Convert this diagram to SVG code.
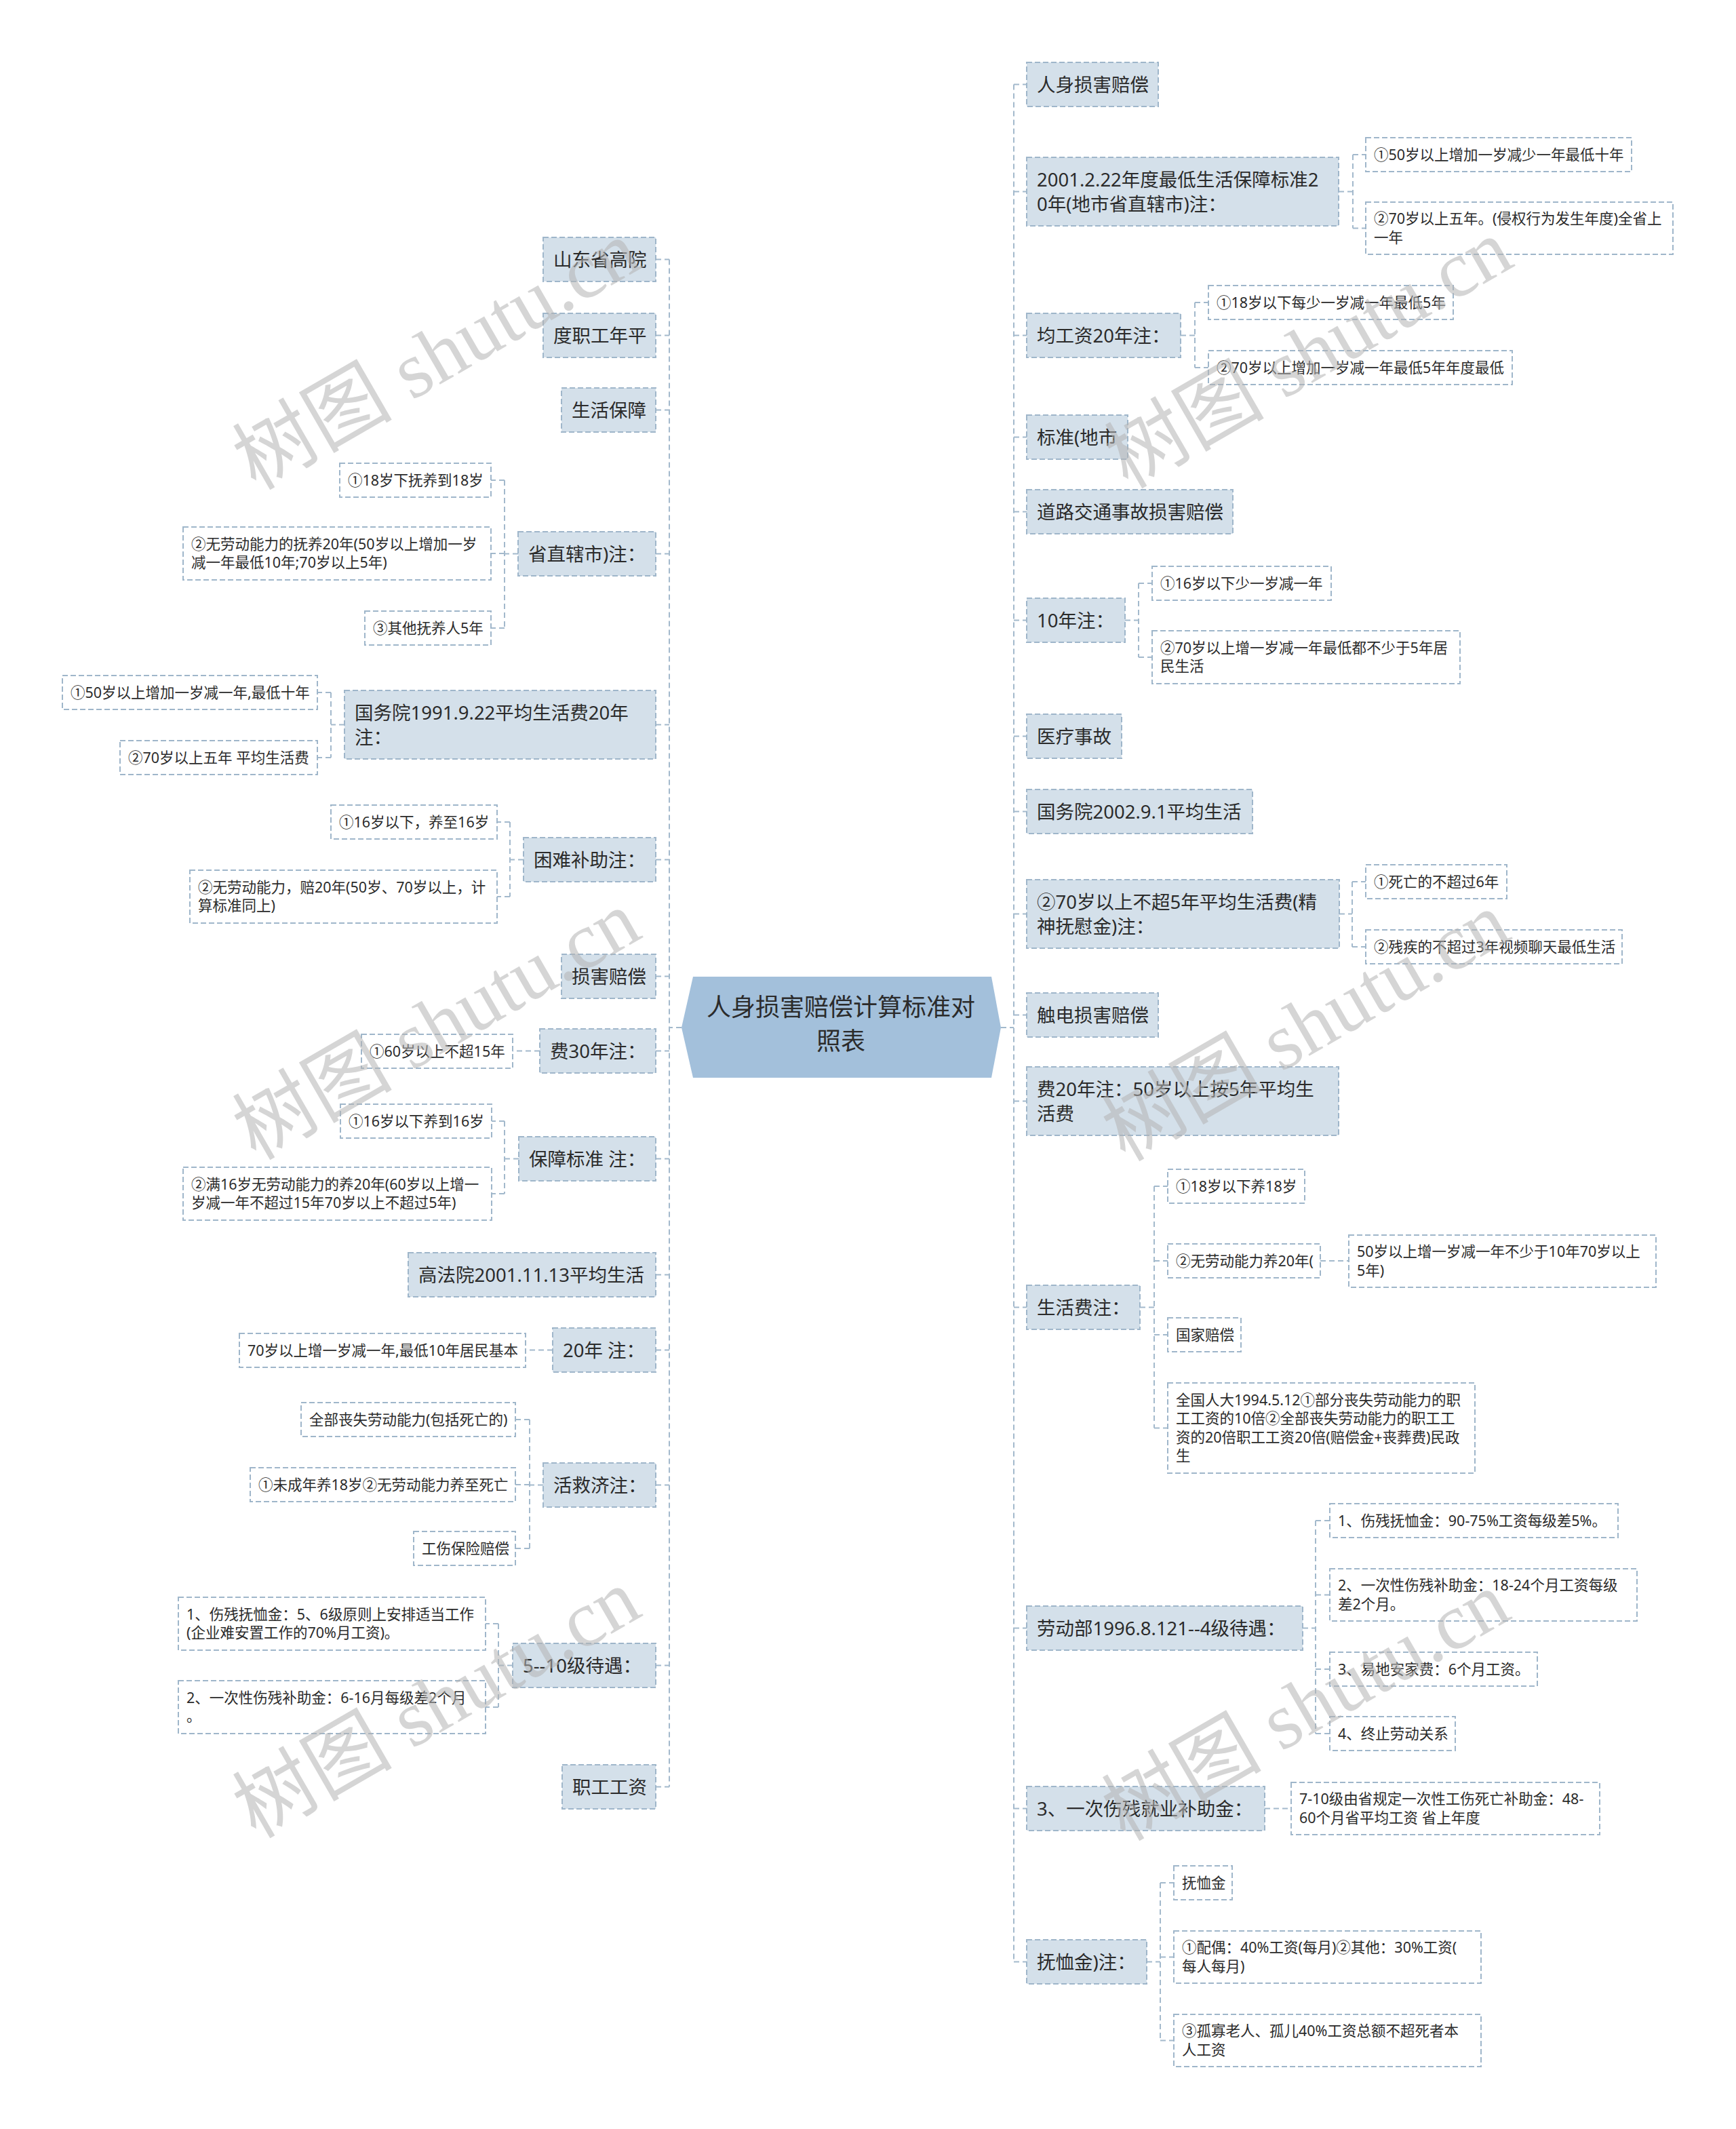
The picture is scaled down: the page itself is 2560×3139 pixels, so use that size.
<svg xmlns="http://www.w3.org/2000/svg" width="2560" height="3139" viewBox="0 0 2560 3139">
<style>
.n1{fill:#d4e0ea;stroke:#9fb6ca;stroke-width:2;stroke-dasharray:8 4}
.n2{fill:#ffffff;stroke:#9fb6ca;stroke-width:2;stroke-dasharray:8 4}
.t1{font-family:"Noto Sans","Noto Sans CJK SC",sans-serif;font-size:27.5px;fill:#2b2b2b}
.t2{font-family:"Noto Sans","Noto Sans CJK SC",sans-serif;font-size:21.5px;fill:#2b2b2b}
.t0{font-family:"Noto Sans","Noto Sans CJK SC",sans-serif;font-size:36px;fill:#2b2b2b}
.c{fill:none;stroke:#a3b9cc;stroke-width:2;stroke-dasharray:8 5}
.wm{font-family:"Liberation Serif","Noto Sans CJK SC",serif;font-size:118px;fill:#b4b4b4;opacity:0.55}
</style>
<rect width="2560" height="3139" fill="#ffffff"/>
<g id="connectors">
<path class="c" d="M1005,1515 H987 M1476,1515 H1495"/>
<path class="c" d="M1495,124.5 V2892.5 M1495,124.5 H1514 M1495,282.5 H1514 M1495,494.5 H1514 M1495,644.5 H1514 M1495,754.5 H1514 M1495,914.5 H1514 M1495,1085.5 H1514 M1495,1196.5 H1514 M1495,1347.5 H1514 M1495,1496.5 H1514 M1495,1623.5 H1514 M1495,1927.5 H1514 M1495,2400.5 H1514 M1495,2666.5 H1514 M1495,2892.5 H1514"/>
<path class="c" d="M987,382.5 V2634.5 M967,382.5 H987 M967,494.5 H987 M967,604.5 H987 M967,816.5 H987 M967,1068.5 H987 M967,1267.5 H987 M967,1439.5 H987 M967,1549.5 H987 M967,1708.5 H987 M967,1879.5 H987 M967,1990.5 H987 M967,2189.5 H987 M967,2455.5 H987 M967,2634.5 H987"/>
<path class="c" d="M1974,282.5 H1995 M1995,228 V336.5 M1995,228 H2014 M1995,336.5 H2014"/>
<path class="c" d="M1741,494.5 H1762 M1762,446 V542 M1762,446 H1782 M1762,542 H1782"/>
<path class="c" d="M1659,914.5 H1679 M1679,860 V969 M1679,860 H1699 M1679,969 H1699"/>
<path class="c" d="M1975,1347.5 H1994 M1994,1300 V1396 M1994,1300 H2014 M1994,1396 H2014"/>
<path class="c" d="M1681,1927.5 H1702 M1702,1749 V2105.5 M1702,1749 H1722 M1702,1859 H1722 M1702,1968 H1722 M1702,2105.5 H1722"/>
<path class="c" d="M1947,1859 H1989"/>
<path class="c" d="M1921,2400.5 H1940 M1940,2242 V2556 M1940,2242 H1961 M1940,2351.5 H1961 M1940,2461 H1961 M1940,2556 H1961"/>
<path class="c" d="M1865,2666.5 H1904"/>
<path class="c" d="M1691,2892.5 H1711 M1711,2776 V3008.5 M1711,2776 H1731 M1711,2885.5 H1731 M1711,3008.5 H1731"/>
<path class="c" d="M764,816.5 H744 M744,708 V926 M744,708 H724 M744,816 H724 M744,926 H724"/>
<path class="c" d="M508,1068.5 H488 M488,1021 V1117 M488,1021 H468 M488,1117 H468"/>
<path class="c" d="M772,1267.5 H752 M752,1212 V1322 M752,1212 H733 M752,1322 H733"/>
<path class="c" d="M796,1549.5 H756"/>
<path class="c" d="M765,1708.5 H744 M744,1653 V1760 M744,1653 H725 M744,1760 H725"/>
<path class="c" d="M815,1990.5 H775"/>
<path class="c" d="M801,2189.5 H781 M781,2093 V2283 M781,2093 H760 M781,2189 H760 M781,2283 H760"/>
<path class="c" d="M756,2455.5 H735 M735,2394 V2517 M735,2394 H716 M735,2517 H716"/>
</g>
<g id="root">
<polygon points="1005,1515 1022,1440 1462,1440 1476,1515 1462,1589 1022,1589" fill="#a3c0db"/>
<text class="t0" x="1240" y="1498" text-anchor="middle">人身损害赔偿计算标准对</text>
<text class="t0" x="1240" y="1548" text-anchor="middle">照表</text>
</g>
<g id="R1"><rect class="n1" x="1514" y="92" width="194" height="65"/><text class="t1" x="1529" y="134.5">人身损害赔偿</text></g>
<g id="R2"><rect class="n1" x="1514" y="232" width="460" height="101"/><text class="t1" x="1529" y="274.5">2001.2.22年度最低生活保障标准2</text><text class="t1" x="1529" y="310.5">0年(地市省直辖市)注：</text></g>
<g id="R2a"><rect class="n2" x="2014" y="203" width="392" height="50"/><text class="t2" x="2026" y="235.5">①50岁以上增加一岁减少一年最低十年</text></g>
<g id="R2b"><rect class="n2" x="2014" y="298" width="453" height="77"/><text class="t2" x="2026" y="330.25">②70岁以上五年。(侵权行为发生年度)全省上</text><text class="t2" x="2026" y="357.75">一年</text></g>
<g id="R3"><rect class="n1" x="1514" y="462" width="227" height="65"/><text class="t1" x="1529" y="504.5">均工资20年注：</text></g>
<g id="R3a"><rect class="n2" x="1782" y="421" width="361" height="50"/><text class="t2" x="1794" y="453.5">①18岁以下每少一岁减一年最低5年</text></g>
<g id="R3b"><rect class="n2" x="1782" y="517" width="448" height="50"/><text class="t2" x="1794" y="549.5">②70岁以上增加一岁减一年最低5年年度最低</text></g>
<g id="R4"><rect class="n1" x="1514" y="612" width="149" height="65"/><text class="t1" x="1529" y="654.5">标准(地市</text></g>
<g id="R5"><rect class="n1" x="1514" y="722" width="304" height="65"/><text class="t1" x="1529" y="764.5">道路交通事故损害赔偿</text></g>
<g id="R6"><rect class="n1" x="1514" y="882" width="145" height="65"/><text class="t1" x="1529" y="924.5">10年注：</text></g>
<g id="R6a"><rect class="n2" x="1699" y="835" width="264" height="50"/><text class="t2" x="1711" y="867.5">①16岁以下少一岁减一年</text></g>
<g id="R6b"><rect class="n2" x="1699" y="930" width="454" height="78"/><text class="t2" x="1711" y="962.75">②70岁以上增一岁减一年最低都不少于5年居</text><text class="t2" x="1711" y="990.25">民生活</text></g>
<g id="R7"><rect class="n1" x="1514" y="1053" width="140" height="65"/><text class="t1" x="1529" y="1095.5">医疗事故</text></g>
<g id="R8"><rect class="n1" x="1514" y="1164" width="333" height="65"/><text class="t1" x="1529" y="1206.5">国务院2002.9.1平均生活</text></g>
<g id="R9"><rect class="n1" x="1514" y="1297" width="461" height="101"/><text class="t1" x="1529" y="1339.5">②70岁以上不超5年平均生活费(精</text><text class="t1" x="1529" y="1375.5">神抚慰金)注：</text></g>
<g id="R9a"><rect class="n2" x="2014" y="1275" width="208" height="50"/><text class="t2" x="2026" y="1307.5">①死亡的不超过6年</text></g>
<g id="R9b"><rect class="n2" x="2014" y="1371" width="378" height="50"/><text class="t2" x="2026" y="1403.5">②残疾的不超过3年视频聊天最低生活</text></g>
<g id="R10"><rect class="n1" x="1514" y="1464" width="194" height="65"/><text class="t1" x="1529" y="1506.5">触电损害赔偿</text></g>
<g id="R11"><rect class="n1" x="1514" y="1573" width="460" height="101"/><text class="t1" x="1529" y="1615.5">费20年注：50岁以上按5年平均生</text><text class="t1" x="1529" y="1651.5">活费</text></g>
<g id="R12"><rect class="n1" x="1514" y="1895" width="167" height="65"/><text class="t1" x="1529" y="1937.5">生活费注：</text></g>
<g id="R12a"><rect class="n2" x="1722" y="1724" width="202" height="50"/><text class="t2" x="1734" y="1756.5">①18岁以下养18岁</text></g>
<g id="R12b"><rect class="n2" x="1722" y="1834" width="225" height="50"/><text class="t2" x="1734" y="1866.5">②无劳动能力养20年(</text></g>
<g id="R12b1"><rect class="n2" x="1989" y="1821" width="453" height="77"/><text class="t2" x="2001" y="1853.25">50岁以上增一岁减一年不少于10年70岁以上</text><text class="t2" x="2001" y="1880.75">5年)</text></g>
<g id="R12c"><rect class="n2" x="1722" y="1943" width="108" height="50"/><text class="t2" x="1734" y="1975.5">国家赔偿</text></g>
<g id="R12d"><rect class="n2" x="1722" y="2039" width="453" height="133"/><text class="t2" x="1734" y="2071.75">全国人大1994.5.12①部分丧失劳动能力的职</text><text class="t2" x="1734" y="2099.25">工工资的10倍②全部丧失劳动能力的职工工</text><text class="t2" x="1734" y="2126.75">资的20倍职工工资20倍(赔偿金+丧葬费)民政</text><text class="t2" x="1734" y="2154.25">生</text></g>
<g id="R13"><rect class="n1" x="1514" y="2368" width="407" height="65"/><text class="t1" x="1529" y="2410.5">劳动部1996.8.121--4级待遇：</text></g>
<g id="R13a"><rect class="n2" x="1961" y="2217" width="425" height="50"/><text class="t2" x="1973" y="2249.5">1、伤残抚恤金：90-75%工资每级差5%。</text></g>
<g id="R13b"><rect class="n2" x="1961" y="2313" width="453" height="77"/><text class="t2" x="1973" y="2345.25">2、一次性伤残补助金：18-24个月工资每级</text><text class="t2" x="1973" y="2372.75">差2个月。</text></g>
<g id="R13c"><rect class="n2" x="1961" y="2436" width="306" height="50"/><text class="t2" x="1973" y="2468.5">3、易地安家费：6个月工资。</text></g>
<g id="R13d"><rect class="n2" x="1961" y="2531" width="185" height="50"/><text class="t2" x="1973" y="2563.5">4、终止劳动关系</text></g>
<g id="R14"><rect class="n1" x="1514" y="2634" width="351" height="65"/><text class="t1" x="1529" y="2676.5">3、一次伤残就业补助金：</text></g>
<g id="R14a"><rect class="n2" x="1904" y="2628" width="455" height="77"/><text class="t2" x="1916" y="2660.25">7-10级由省规定一次性工伤死亡补助金：48-</text><text class="t2" x="1916" y="2687.75">60个月省平均工资 省上年度</text></g>
<g id="R15"><rect class="n1" x="1514" y="2860" width="177" height="65"/><text class="t1" x="1529" y="2902.5">抚恤金)注：</text></g>
<g id="R15a"><rect class="n2" x="1731" y="2751" width="86" height="50"/><text class="t2" x="1743" y="2783.5">抚恤金</text></g>
<g id="R15b"><rect class="n2" x="1731" y="2847" width="453" height="77"/><text class="t2" x="1743" y="2879.25">①配偶：40%工资(每月)②其他：30%工资(</text><text class="t2" x="1743" y="2906.75">每人每月)</text></g>
<g id="R15c"><rect class="n2" x="1731" y="2970" width="453" height="77"/><text class="t2" x="1743" y="3002.25">③孤寡老人、孤儿40%工资总额不超死者本</text><text class="t2" x="1743" y="3029.75">人工资</text></g>
<g id="L1"><rect class="n1" x="801" y="350" width="166" height="65"/><text class="t1" x="816" y="392.5">山东省高院</text></g>
<g id="L2"><rect class="n1" x="801" y="462" width="166" height="65"/><text class="t1" x="816" y="504.5">度职工年平</text></g>
<g id="L3"><rect class="n1" x="828" y="572" width="139" height="65"/><text class="t1" x="843" y="614.5">生活保障</text></g>
<g id="L4"><rect class="n1" x="764" y="784" width="203" height="65"/><text class="t1" x="779" y="826.5">省直辖市)注：</text></g>
<g id="L4a"><rect class="n2" x="501" y="683" width="223" height="50"/><text class="t2" x="513" y="715.5">①18岁下抚养到18岁</text></g>
<g id="L4b"><rect class="n2" x="270" y="777" width="454" height="78"/><text class="t2" x="282" y="809.75">②无劳动能力的抚养20年(50岁以上增加一岁</text><text class="t2" x="282" y="837.25">减一年最低10年;70岁以上5年)</text></g>
<g id="L4c"><rect class="n2" x="538" y="901" width="186" height="50"/><text class="t2" x="550" y="933.5">③其他抚养人5年</text></g>
<g id="L5"><rect class="n1" x="508" y="1018" width="459" height="101"/><text class="t1" x="523" y="1060.5">国务院1991.9.22平均生活费20年</text><text class="t1" x="523" y="1096.5">注：</text></g>
<g id="L5a"><rect class="n2" x="92" y="996" width="376" height="50"/><text class="t2" x="104" y="1028.5">①50岁以上增加一岁减一年,最低十年</text></g>
<g id="L5b"><rect class="n2" x="177" y="1092" width="291" height="50"/><text class="t2" x="189" y="1124.5">②70岁以上五年 平均生活费</text></g>
<g id="L6"><rect class="n1" x="772" y="1235" width="195" height="65"/><text class="t1" x="787" y="1277.5">困难补助注：</text></g>
<g id="L6a"><rect class="n2" x="488" y="1187" width="245" height="50"/><text class="t2" x="500" y="1219.5">①16岁以下，养至16岁</text></g>
<g id="L6b"><rect class="n2" x="280" y="1283" width="453" height="78"/><text class="t2" x="292" y="1315.75">②无劳动能力，赔20年(50岁、70岁以上，计</text><text class="t2" x="292" y="1343.25">算标准同上)</text></g>
<g id="L7"><rect class="n1" x="828" y="1407" width="139" height="65"/><text class="t1" x="843" y="1449.5">损害赔偿</text></g>
<g id="L8"><rect class="n1" x="796" y="1517" width="171" height="65"/><text class="t1" x="811" y="1559.5">费30年注：</text></g>
<g id="L8a"><rect class="n2" x="533" y="1525" width="223" height="50"/><text class="t2" x="545" y="1557.5">①60岁以上不超15年</text></g>
<g id="L9"><rect class="n1" x="765" y="1676" width="202" height="65"/><text class="t1" x="780" y="1718.5">保障标准 注：</text></g>
<g id="L9a"><rect class="n2" x="502" y="1628" width="223" height="50"/><text class="t2" x="514" y="1660.5">①16岁以下养到16岁</text></g>
<g id="L9b"><rect class="n2" x="270" y="1721" width="455" height="78"/><text class="t2" x="282" y="1753.75">②满16岁无劳动能力的养20年(60岁以上增一</text><text class="t2" x="282" y="1781.25">岁减一年不超过15年70岁以上不超过5年)</text></g>
<g id="L10"><rect class="n1" x="602" y="1847" width="365" height="65"/><text class="t1" x="617" y="1889.5">高法院2001.11.13平均生活</text></g>
<g id="L11"><rect class="n1" x="815" y="1958" width="152" height="65"/><text class="t1" x="830" y="2000.5">20年 注：</text></g>
<g id="L11a"><rect class="n2" x="353" y="1966" width="422" height="50"/><text class="t2" x="365" y="1998.5">70岁以上增一岁减一年,最低10年居民基本</text></g>
<g id="L12"><rect class="n1" x="801" y="2157" width="166" height="65"/><text class="t1" x="816" y="2199.5">活救济注：</text></g>
<g id="L12a"><rect class="n2" x="444" y="2068" width="316" height="50"/><text class="t2" x="456" y="2100.5">全部丧失劳动能力(包括死亡的)</text></g>
<g id="L12b"><rect class="n2" x="369" y="2164" width="391" height="50"/><text class="t2" x="381" y="2196.5">①未成年养18岁②无劳动能力养至死亡</text></g>
<g id="L12c"><rect class="n2" x="610" y="2258" width="150" height="50"/><text class="t2" x="622" y="2290.5">工伤保险赔偿</text></g>
<g id="L13"><rect class="n1" x="756" y="2423" width="211" height="65"/><text class="t1" x="771" y="2465.5">5--10级待遇：</text></g>
<g id="L13a"><rect class="n2" x="263" y="2355" width="453" height="78"/><text class="t2" x="275" y="2387.75">1、伤残抚恤金：5、6级原则上安排适当工作</text><text class="t2" x="275" y="2415.25">(企业难安置工作的70%月工资)。</text></g>
<g id="L13b"><rect class="n2" x="263" y="2478" width="453" height="78"/><text class="t2" x="275" y="2510.75">2、一次性伤残补助金：6-16月每级差2个月</text><text class="t2" x="275" y="2538.25">。</text></g>
<g id="L14"><rect class="n1" x="829" y="2602" width="138" height="65"/><text class="t1" x="844" y="2644.5">职工工资</text></g>
<g id="watermarks">
<text class="wm" x="644" y="524" text-anchor="middle" dominant-baseline="central" transform="rotate(-30 644 524)">树图 shutu.cn</text>
<text class="wm" x="1930" y="522" text-anchor="middle" dominant-baseline="central" transform="rotate(-30 1930 522)">树图 shutu.cn</text>
<text class="wm" x="644" y="1512" text-anchor="middle" dominant-baseline="central" transform="rotate(-30 644 1512)">树图 shutu.cn</text>
<text class="wm" x="1926" y="1514" text-anchor="middle" dominant-baseline="central" transform="rotate(-30 1926 1514)">树图 shutu.cn</text>
<text class="wm" x="644" y="2512" text-anchor="middle" dominant-baseline="central" transform="rotate(-30 644 2512)">树图 shutu.cn</text>
<text class="wm" x="1926" y="2516" text-anchor="middle" dominant-baseline="central" transform="rotate(-30 1926 2516)">树图 shutu.cn</text>
</g>
</svg>
